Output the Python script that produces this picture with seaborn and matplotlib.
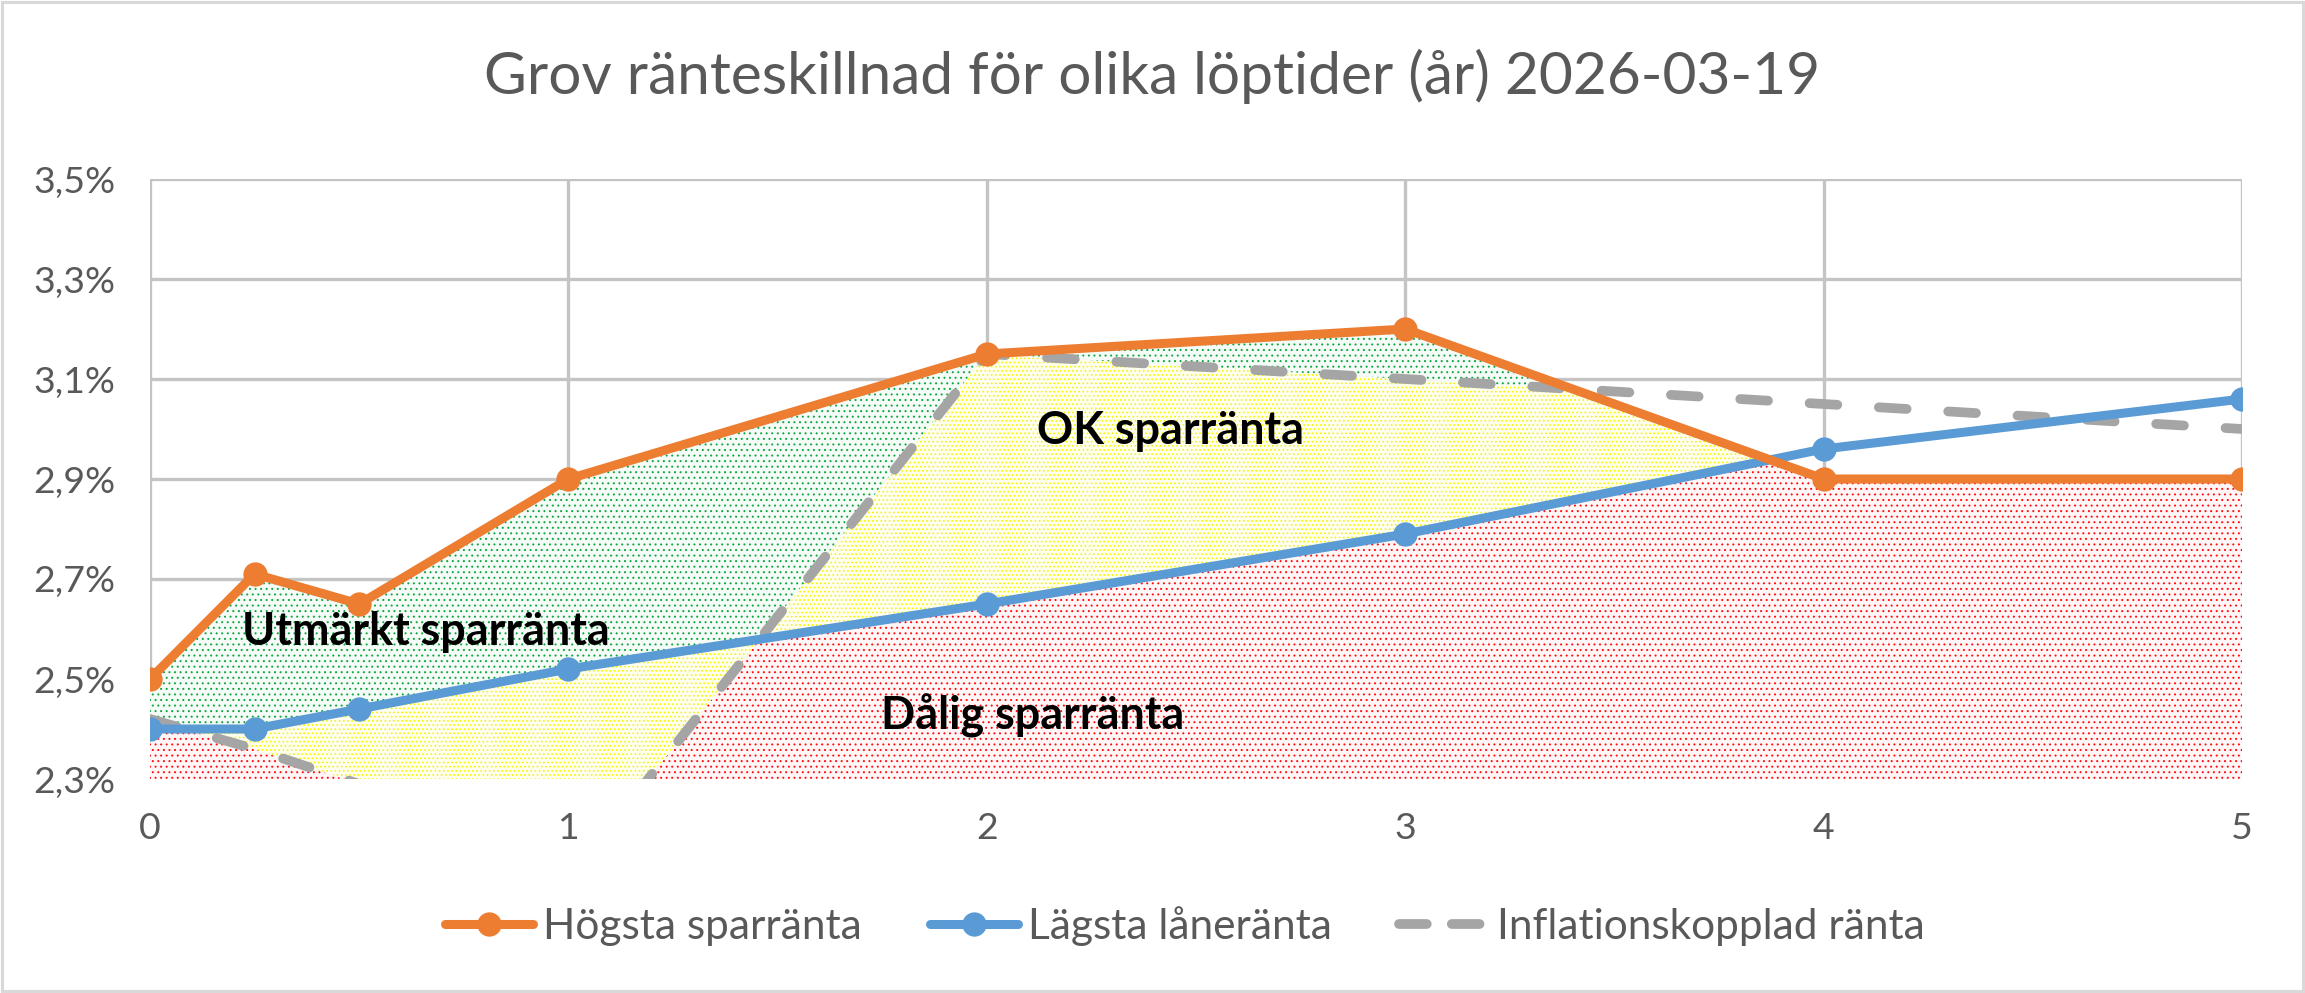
import numpy as np
import pandas as pd
import matplotlib
matplotlib.use("Agg")
import matplotlib.pyplot as plt
import seaborn as sns
from matplotlib.lines import Line2D
from matplotlib.patches import Rectangle

# ---------------- data ----------------
loptid = [0, 0.25, 0.5, 1, 2, 3, 4, 5]
hogsta_sparranta = [2.50, 2.71, 2.65, 2.90, 3.15, 3.20, 2.90, 2.90]
lagsta_laneranta = [2.40, 2.40, 2.44, 2.52, 2.65, 2.79, 2.96, 3.06]
inflationskopplad = [2.42, 2.36, 2.29, 2.10, 3.15, 3.10, 3.05, 3.00]

title_text = "Grov ränteskillnad för olika löptider (år) 2026-03-19"
series_labels = ["Högsta sparränta", "Lägsta låneränta", "Inflationskopplad ränta"]
region_labels = ["Utmärkt sparränta", "OK sparränta", "Dålig sparränta"]
y_ticks = [2.3, 2.5, 2.7, 2.9, 3.1, 3.3, 3.5]
x_ticks = [0, 1, 2, 3, 4, 5]

# ---------------- style ----------------
sns.set_theme(style="white")
plt.rcParams["font.family"] = ["Lato", "DejaVu Sans"]
plt.rcParams["lines.scale_dashes"] = False
plt.rcParams["hatch.linewidth"] = 0.7

C_ORANGE = "#ED7D31"
C_BLUE = "#5B9BD5"
C_GRAY = "#A5A5A5"
C_TEXT = "#595959"
C_GRID = "#C4C4C4"
LW = 6.5
MS = 17.5

W, H = 2305, 993
fig = plt.figure(figsize=(W / 100, H / 100), dpi=100)
fig.patch.set_facecolor("white")
ax = fig.add_axes([150 / W, 1 - 779 / H, (2242 - 150) / W, (779 - 179) / H])
ax.set_facecolor("white")

renderer = fig.canvas.get_renderer()


def fit_size(txt, fs0, target_px, weight="normal"):
    t = fig.text(0, 0, txt, fontsize=fs0, fontweight=weight)
    w = t.get_window_extent(renderer).width
    t.remove()
    return fs0 * target_px / w


# ---------------- regions (derived from the series) ----------------
xs = np.linspace(0, 5, 2001)
o = np.interp(xs, loptid, hogsta_sparranta)
b = np.interp(xs, loptid, lagsta_laneranta)
g = np.interp(xs, loptid, inflationskopplad)
lo = np.minimum(g, b)
hi = np.maximum(g, b)
red_top = np.minimum(lo, o)
yellow_top = np.minimum(hi, o)

base = 2.3
ax.fill_between(xs, base, red_top, where=red_top > base, facecolor="#FFF7F7",
                edgecolor="#FF1010", hatch="...", linewidth=0, zorder=1)
ax.fill_between(xs, red_top, yellow_top, where=yellow_top > red_top, facecolor="#FFFFF0",
                edgecolor="#F5F500", hatch="....", linewidth=0, zorder=1)
ax.fill_between(xs, np.maximum(hi, red_top), o, where=o > hi, facecolor="#F5FBF6",
                edgecolor="#10A643", hatch="...", linewidth=0, zorder=1)

# ---------------- lines ----------------
df = pd.DataFrame({"x": loptid, "h": hogsta_sparranta, "l": lagsta_laneranta,
                   "i": inflationskopplad})
sns.lineplot(data=df, x="x", y="i", ax=ax, color=C_GRAY, linewidth=LW + 0.5, zorder=4,
             estimator=None, sort=False)
sns.lineplot(data=df, x="x", y="l", ax=ax, color=C_BLUE, linewidth=LW, zorder=5,
             marker="o", markersize=MS, markeredgewidth=0, estimator=None, sort=False)
sns.lineplot(data=df, x="x", y="h", ax=ax, color=C_ORANGE, linewidth=LW, zorder=6,
             marker="o", markersize=MS, markeredgewidth=0, estimator=None, sort=False)
gray_line = ax.lines[0]
gray_line.set_dashes((20, 30))
gray_line.set_dash_capstyle("round")
gray_line.set_solid_capstyle("round")

# ---------------- axes ----------------
ax.set_xlim(0, 5)
ax.set_ylim(2.3, 3.5)
ax.set_xticks(x_ticks)
ax.set_yticks(y_ticks)
ax.set_xticklabels([str(v) for v in x_ticks])
ax.set_yticklabels([f"{v:.1f}".replace(".", ",") + "%" for v in y_ticks])
ax.set_xlabel("")
ax.set_ylabel("")
ax.grid(True, color=C_GRID, linewidth=2.4, zorder=0)
ax.set_axisbelow(True)
for s in ax.spines.values():
    s.set_visible(False)

tick_fs = fit_size("3,5%", 20, 82)
ax.tick_params(axis="both", which="both", length=0, labelsize=tick_fs, labelcolor=C_TEXT)
ax.tick_params(axis="y", pad=25)
ax.tick_params(axis="x", pad=24)

# ---------------- region labels ----------------
fs_u = fit_size(region_labels[0], 20, 367, "bold")
ax.text(0.22, 2.594, region_labels[0], fontsize=fs_u, fontweight="bold", color="black",
        ha="left", va="center", zorder=7)
ax.text(2.44, 2.997, region_labels[1], fontsize=fs_u, fontweight="bold", color="black",
        ha="center", va="center", zorder=7)
ax.text(2.11, 2.426, region_labels[2], fontsize=fs_u, fontweight="bold", color="black",
        ha="center", va="center", zorder=7)

# ---------------- title ----------------
title_fs = fit_size(title_text, 30, 1335)
fig.text(0.5, 0.923, title_text, fontsize=title_fs, color=C_TEXT, ha="center", va="center")

# ---------------- legend ----------------
leg_fs = fit_size(series_labels[0], 20, 319)
pxu = leg_fs * 100 / 72
handles = [
    Line2D([], [], color=C_ORANGE, linewidth=LW, marker="o", markersize=MS, markeredgewidth=0),
    Line2D([], [], color=C_BLUE, linewidth=LW, marker="o", markersize=MS, markeredgewidth=0),
    Line2D([], [], color=C_GRAY, linewidth=LW + 0.5, dashes=(20, 18), dash_capstyle="round"),
]
leg = fig.legend(handles, series_labels, loc="center", bbox_to_anchor=(1185 / W, 0.0675),
                 ncol=3, frameon=False, fontsize=leg_fs, handlelength=88 / pxu,
                 handletextpad=10 / pxu, columnspacing=68 / pxu, numpoints=1)
for t in leg.get_texts():
    t.set_color(C_TEXT)

# ---------------- border ----------------
fig.patches.append(Rectangle((0.0008, 0.002), 0.9984, 0.996, transform=fig.transFigure,
                             fill=False, edgecolor="#D9D9D9", linewidth=2.2))

fig.savefig("out.png", dpi=100, facecolor="white")
